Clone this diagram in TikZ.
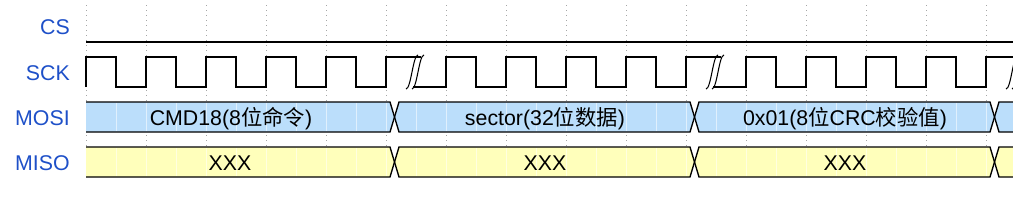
\documentclass[tikz,border=0pt]{standalone}
\usepackage{fontspec}
\setmainfont{Liberation Sans}
\newfontfamily\cjk{Noto Sans CJK SC}
\usepackage{xcolor}
\usepackage{tikz}
\usetikzlibrary{calc}

\definecolor{sigblue}{RGB}{30,80,200}
\definecolor{mosifill}{RGB}{187,222,251}
\definecolor{misofill}{RGB}{255,255,187}

\begin{document}
\begin{tikzpicture}[
  x=0.75pt, y=-0.75pt,
  sig/.style={font=\fontsize{16}{19}\selectfont, text=sigblue, anchor=base east, inner sep=0pt},
  val/.style={font=\fontsize{16}{19}\selectfont, anchor=base, inner sep=0pt},
  wave/.style={line width=1pt, black},
  brk/.style={line width=0.8pt, black},
  gridline/.style={black!35, line width=0.75pt, dash pattern=on 0.75pt off 3pt},
  halfmark/.style={white, opacity=0.55, line width=0.75pt}
]
\useasboundingbox (0,0) rectangle (1013,204);
\clip (0,0) rectangle (1013,204);

% signal names
\node[sig] (cs_lbl) at (70,34.5) {CS};
\node[sig] (sck_lbl) at (70,80) {SCK};
\node[sig] (mosi_lbl) at (70,125.5) {MOSI};
\node[sig] (miso_lbl) at (70,170) {MISO};

% time grid
\foreach \gx in {86,146,...,986}
  \draw[gridline] (\gx,5) -- (\gx,180);

% CS (held low)
\draw[wave] (86,42) -- (1021,42);

% SCK, three bursts with breaks
\draw[wave] (86,87) \foreach \k in {1,...,5} { -- ++(0,-30) -- ++(30,0) -- ++(0,30) -- ++(30,0) } -- ++(0,-30) -- (421,57);
\draw[wave] (413,87) -- (446,87) \foreach \k in {1,...,4} { -- ++(0,-30) -- ++(30,0) -- ++(0,30) -- ++(30,0) } -- ++(0,-30) -- (721,57);
\draw[wave] (713,87) -- (746,87) \foreach \k in {1,...,4} { -- ++(0,-30) -- ++(30,0) -- ++(0,30) -- ++(30,0) } -- ++(0,-30) -- (1021,57);
\foreach \c in {416,716,1016} {
  \draw[brk] (\c-10,89) .. controls (\c-5,89) and (\c-3,55) .. (\c+2,55);
  \draw[brk] (\c-4,89) .. controls (\c+1,89) and (\c+3,55) .. (\c+8,55);
}

% MOSI / MISO buses
\foreach \top/\fillc in {102/mosifill, 147/misofill} {
  \fill[\fillc] (86,\top) -- (390,\top) -- (394.5,\top+15) -- (390,\top+30) -- (86,\top+30) -- cycle;
  \foreach \a in {394.5,694.5}
    \fill[\fillc] (\a,\top+15) -- (\a+4.5,\top) -- (\a+295.5,\top) -- (\a+300,\top+15) -- (\a+295.5,\top+30) -- (\a+4.5,\top+30) -- cycle;
  \fill[\fillc] (994.5,\top+15) -- (999,\top) -- (1021,\top) -- (1021,\top+30) -- (999,\top+30) -- cycle;
  \foreach \gx in {116,146,...,1016}
    \draw[halfmark] (\gx,\top+1) -- (\gx,\top+29);
  \draw[wave] (86,\top) -- (390,\top) -- (399,\top+30) -- (690,\top+30) -- (699,\top) -- (990,\top) -- (999,\top+30) -- (1021,\top+30);
  \draw[wave] (86,\top+30) -- (390,\top+30) -- (399,\top) -- (690,\top) -- (699,\top+30) -- (990,\top+30) -- (999,\top) -- (1021,\top);
}

% bus values
\node[val] (cmd) at (231,125.5) {CMD18(8{\cjk 位命令})};
\node[val] (sector) at (545,125.5) {sector(32{\cjk 位数据})};
\node[val] (crc) at (845,125.5) {0x01(8{\cjk 位}CRC{\cjk 校验值})};
\node[val] (dout_a) at (230,170) {XXX};
\node[val] (dout_b) at (545,170) {XXX};
\node[val] (dout_c) at (845,170) {XXX};

\end{tikzpicture}
\end{document}
